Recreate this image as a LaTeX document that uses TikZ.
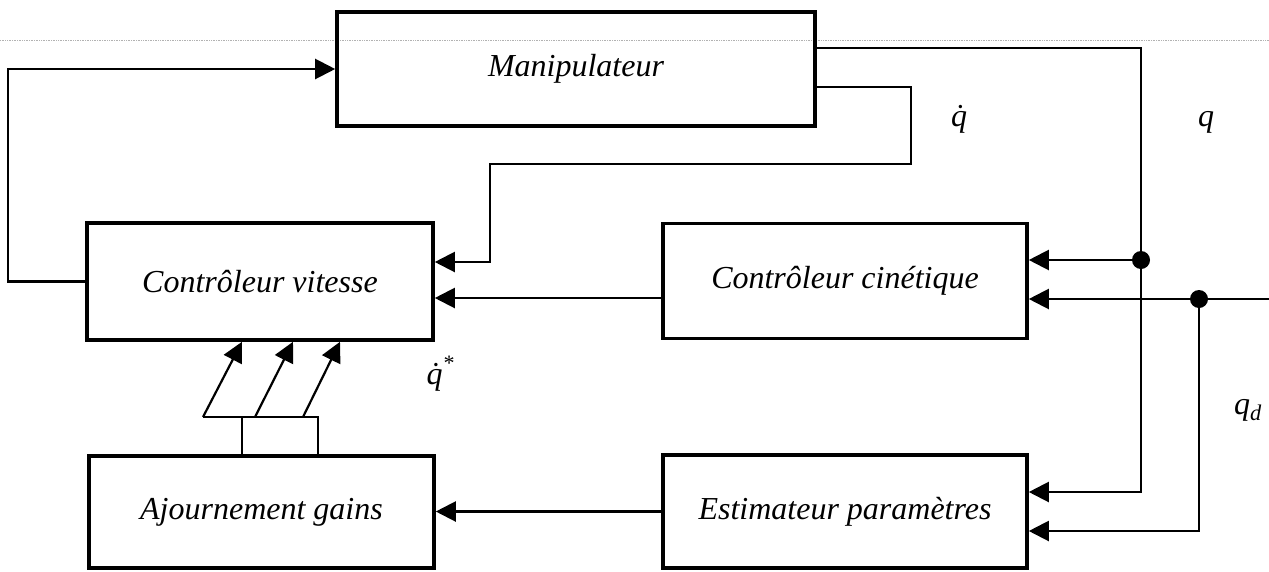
\documentclass[tikz,border=0pt]{standalone}
\usepackage{fontspec}
\setmainfont{Liberation Serif}
\usetikzlibrary{arrows.meta}
\begin{document}
\begin{tikzpicture}[x=1pt,y=-1pt,
  block/.style={draw, line width=3.6pt, inner sep=0pt,
    font=\fontsize{32}{37}\selectfont\itshape},
  wire/.style={line width=2.2pt},
  feed/.style={wire, -{Triangle[length=20pt,width=20pt]}},
  junction/.style={circle, fill, inner sep=0pt, minimum size=18pt},
  lbl/.style={font=\fontsize{32}{37}\selectfont\itshape, inner sep=0pt}]
\useasboundingbox (0,0) rectangle (1269,571);

% faint ruling across the sheet
\draw[gray!60, line width=0.7pt, densely dotted] (0,40) -- (1269,40);

% blocks
\node[block, minimum width=478pt, minimum height=114pt] (man) at (576,69) {Manipulateur};
\node[block, minimum width=346pt, minimum height=117pt] (vit) at (260,281.5) {Contrôleur vitesse};
\node[block, minimum width=364pt, minimum height=115pt] (cin) at (845,281) {Contrôleur cinétique};
\node[block, minimum width=345pt, minimum height=112pt] (aj) at (261.5,512) {Ajournement gains};
\node[block, minimum width=364pt, minimum height=113pt] (est) at (845,511.5) {Estimateur paramètres};

% command back to the manipulator
\draw[feed] (vit.west) -- ++(-77,0) |- (man.west);

% joint velocity feedback
\draw[feed] (man.east |- 0,87) -- (911,87) -- (911,164) -- (490,164) -- (490,262) -- (vit.east |- 0,262);

% kinematic controller output
\draw[feed] (cin.west |- 0,298) -- (vit.east |- 0,298);

% estimator to gain update
\draw[feed] (est.west) -- (aj.east |- est.west);

% joint position q
\coordinate (qj) at (1141,260);
\draw[feed] (man.east |- 0,48) -| (qj) |- (est.east |- 0,492);
\draw[feed] (qj) -- (cin.east |- qj);
\node[junction] (j1) at (qj) {};

% desired position q_d
\coordinate (qin) at (1269,299);
\coordinate (qdj) at (1199,299);
\draw[feed] (qin) -- (cin.east |- qin);
\draw[feed] (qdj) |- (est.east |- 0,531);
\node[junction] (j2) at (qdj) {};

% gain update bus
\draw[wire] (aj.north -| 242,0) -- (242,417) -- (318,417) -- (aj.north -| 318,0);
\draw[wire] (203,417) -- (242,417);
\draw[feed] (203,417) -- (vit.south -| 242,0);
\draw[feed] (255,417) -- (vit.south -| 293,0);
\draw[feed] (303,417) -- (vit.south -| 340,0);

% signal labels
\node[lbl, anchor=base] (lqdot) at (959,126) {\.{q}};
\node[lbl, anchor=base] (lq) at (1206,126) {q};
\node[lbl, anchor=base] (lqstar) at (440,384) {\.{q}\raisebox{14pt}{\fontsize{22}{24}\selectfont *}};
\node[lbl, anchor=base] (lqd) at (1248,414) {q\textsubscript{d}};
\end{tikzpicture}
\end{document}
